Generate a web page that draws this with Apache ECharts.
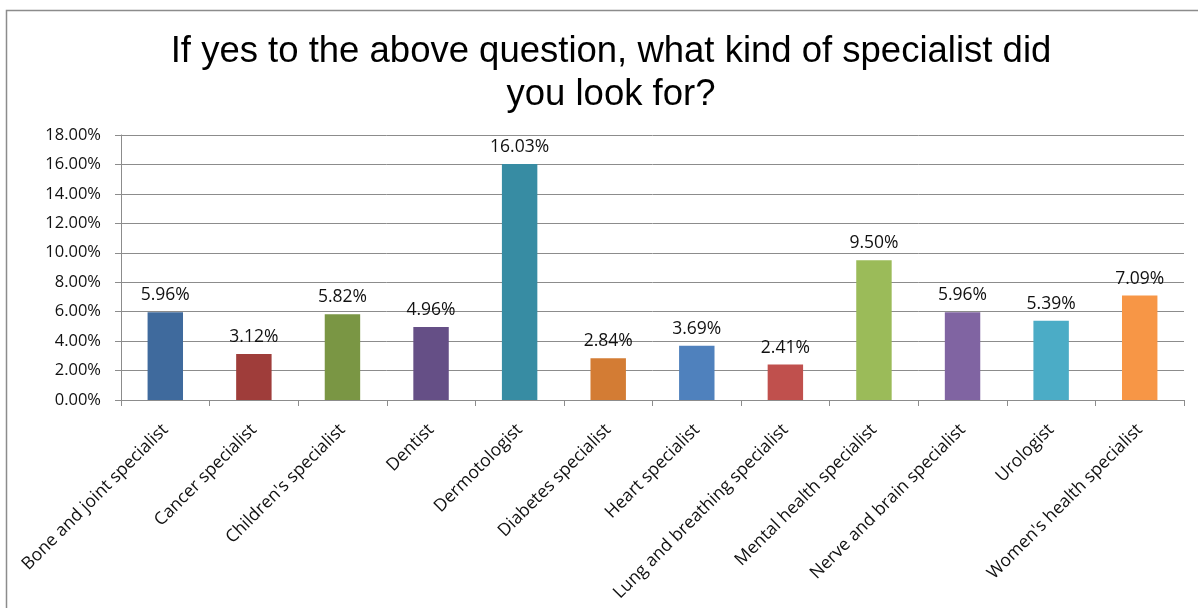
<!DOCTYPE html>
<html><head><meta charset="utf-8">
<script src="https://cdn.jsdelivr.net/npm/echarts@6/dist/echarts.min.js"></script>
<style>html,body{margin:0;padding:0;background:#fff;}#c{width:1198px;height:608px;}</style>
</head><body><div id="c"></div>
<script>
const categories = ["Bone and joint specialist","Cancer specialist","Children's specialist","Dentist","Dermotologist","Diabetes specialist","Heart specialist","Lung and breathing specialist","Mental health specialist","Nerve and brain specialist","Urologist","Women's health specialist"];
const values = [5.96,3.12,5.82,4.96,16.03,2.84,3.69,2.41,9.50,5.96,5.39,7.09];
const colors = ["#3F6A9D","#9F3D3A","#7A9644","#654F86","#378CA3","#D37C34","#4F81BD","#C0504D","#9BBB59","#8064A2","#4BACC6","#F79646"];
const titleText = "If yes to the above question, what kind of specialist did\nyou look for?";

const chart = echarts.init(document.getElementById('c'));
chart.setOption({
  animation:false,
  graphic:[{type:'rect',shape:{x:6.5,y:10.5,width:1250,height:650},style:{fill:'none',stroke:'#8c8c8c',lineWidth:1.5},silent:true}],
  title:{text:titleText,left:606,top:25,textAlign:'center',textStyle:{fontFamily:'Liberation Sans',fontSize:36.5,fontWeight:'normal',color:'#000',lineHeight:43}},
  grid:{left:121,right:14,top:135,bottom:208},
  xAxis:{type:'category',data:categories,
    axisLine:{lineStyle:{color:'#8c8c8c',width:1}},
    axisTick:{show:true,alignWithLabel:false,length:6,lineStyle:{color:'#8c8c8c'}},
    axisLabel:{rotate:45,interval:0,fontFamily:'Open Sans',fontSize:17.5,color:'#111',margin:27}},
  yAxis:{type:'value',min:0,max:18,interval:2,
    axisLine:{show:true,lineStyle:{color:'#8c8c8c'}},
    axisTick:{show:true,inside:false,length:6,lineStyle:{color:'#8c8c8c'}},
    splitLine:{lineStyle:{color:'#8c8c8c',width:1}},
    axisLabel:{formatter:v=>v.toFixed(2)+'%',fontFamily:'Open Sans',fontSize:16.5,color:'#111',margin:20}},
  series:[{type:'bar',barWidth:'40%',
    data:values.map((v,i)=>({value:v,itemStyle:{color:colors[i]}})),
    label:{show:true,position:'top',distance:8,formatter:p=>p.value.toFixed(2)+'%',fontFamily:'Open Sans',fontSize:17.5,color:'#111'}}]
});
</script></body></html>
